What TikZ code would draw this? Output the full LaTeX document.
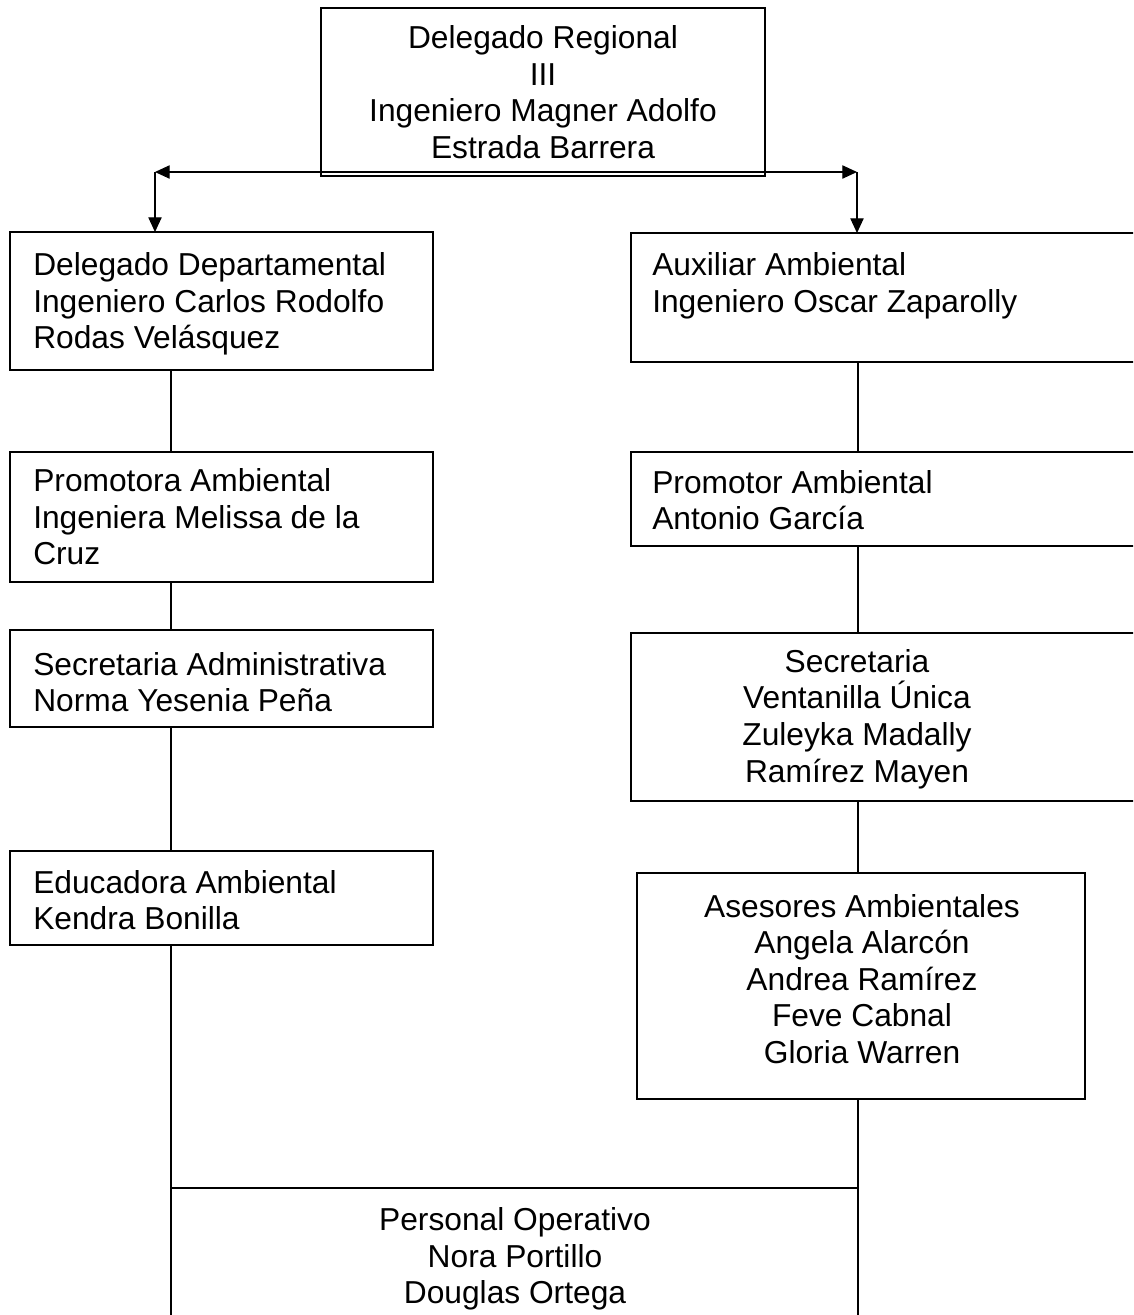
\documentclass[tikz,border=0pt]{standalone}
\usepackage{fontspec}
\setmainfont{Liberation Sans}
\usetikzlibrary{arrows.meta,fit}
\begin{document}
\begin{tikzpicture}[x=0.75pt,y=-0.75pt,
  box/.style={draw, line width=1.3pt, inner sep=0pt, outer sep=0pt, rectangle},
  txt/.style={inner sep=0pt, font=\fontsize{23.8pt}{27.4pt}\selectfont},
  conn/.style={draw, line width=0.8pt},
  tip/.style={-{Triangle[length=11pt,width=10pt]}}]
\useasboundingbox (0,0) rectangle (1133,1315);
\clip (0,0) rectangle (1133,1315);
\fill[white] (0,0) rectangle (1133,1315);
% boxes
\node[box, fit={(321,8) (765,176)}] (top) {};
\node[box, fit={(10,232) (433,370)}] (l1) {};
\node[box, fit={(631,233) (1145,362)}] (r1) {};
\node[box, fit={(10,452) (433,582)}] (l2) {};
\node[box, fit={(631,452) (1145,546)}] (r2) {};
\node[box, fit={(10,630) (433,727)}] (l3) {};
\node[box, fit={(631,633) (1145,801)}] (r3) {};
\node[box, fit={(10,851) (433,945)}] (l4) {};
\node[box, fit={(637,873) (1085,1099)}] (r4) {};
\node[box, fit={(171,1188) (858,1340)}] (bot) {};
% texts
\node[txt, align=center] (topt) at (543,92) {Delegado Regional\\III\\Ingeniero Magner Adolfo\\Estrada Barrera};
\node[txt, align=left, anchor=west] (l1t) at (33,304) {Delegado Departamental\\Ingeniero Carlos Rodolfo\\Rodas Velásquez};
\node[txt, align=left, anchor=west] (r1t) at (652,286) {Auxiliar Ambiental\\Ingeniero Oscar Zaparolly};
\node[txt, align=left, anchor=west] (l2t) at (33,517) {Promotora Ambiental\\Ingeniera Melissa de la\\Cruz};
\node[txt, align=left, anchor=west] (r2t) at (652,500) {Promotor Ambiental\\Antonio García};
\node[txt, align=left, anchor=west] (l3t) at (33,682) {Secretaria Administrativa\\Norma Yesenia Peña};
\node[txt, align=center] (r3t) at (857,719) {Secretaria\\Ventanilla Única\\Zuleyka Madally\\Ramírez Mayen};
\node[txt, align=left, anchor=west] (l4t) at (33,900) {Educadora Ambiental\\Kendra Bonilla};
\node[txt, align=center] (r4t) at (862,979) {Asesores Ambientales\\Angela Alarcón\\Andrea Ramírez\\Feve Cabnal\\Gloria Warren};
\node[txt, align=center] (bott) at (515,1259) {Personal Operativo\\Nora Portillo\\Douglas Ortega};
% connectors
\coordinate (hl) at (155,172);
\coordinate (hr) at (857,172);
\coordinate (lx) at (171,0);
\coordinate (rx) at (858,0);
\draw[conn, {Triangle[length=11pt,width=10pt]}-{Triangle[length=11pt,width=10pt]}] (hl) -- (hr);
\draw[conn, tip] (hl) -- (l1.north -| hl);
\draw[conn, tip] (hr) -- (r1.north -| hr);
\draw[conn] (l1.south -| lx) -- (l2.north -| lx);
\draw[conn] (l2.south -| lx) -- (l3.north -| lx);
\draw[conn] (l3.south -| lx) -- (l4.north -| lx);
\draw[conn] (l4.south -| lx) -- (bot.north west);
\draw[conn] (r1.south -| rx) -- (r2.north -| rx);
\draw[conn] (r2.south -| rx) -- (r3.north -| rx);
\draw[conn] (r3.south -| rx) -- (r4.north -| rx);
\draw[conn] (r4.south -| rx) -- (bot.north east);
\end{tikzpicture}
\end{document}
